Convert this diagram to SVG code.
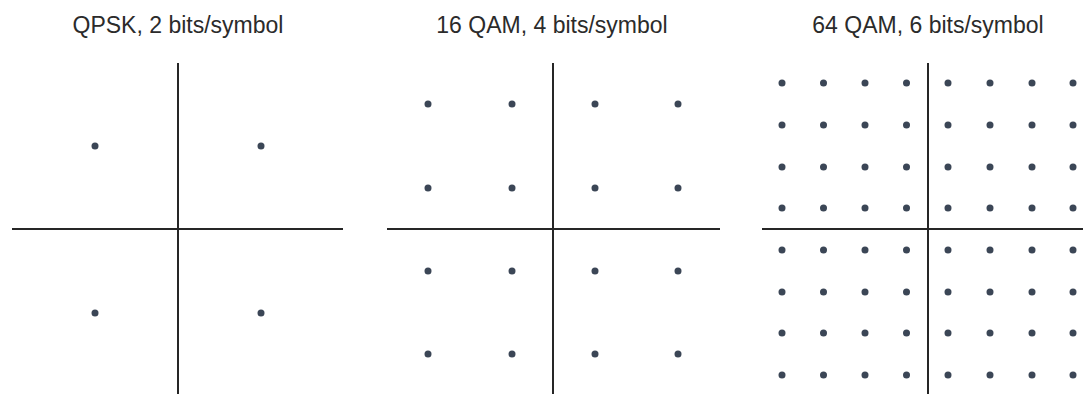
<svg xmlns="http://www.w3.org/2000/svg" width="1083" height="394" viewBox="0 0 1083 394">
<style>
.title{font-family:"Liberation Sans",Arial,sans-serif;font-size:23px;fill:#2b2b2b;text-anchor:middle}
.axis{stroke:#262626;stroke-width:2;fill:none}
.dot{fill:#3b4656}
</style>
<defs><circle id="d" r="3.5" class="dot"/></defs>
<rect width="1083" height="394" fill="#ffffff"/>
<g id="qpsk">
<text class="title" x="178" y="33">QPSK, 2 bits/symbol</text>
<g class="axes"><line class="axis" x1="178" y1="63" x2="178" y2="394"/><line class="axis" x1="12" y1="229" x2="343" y2="229"/></g>
<use href="#d" x="95" y="146"/><use href="#d" x="261" y="146"/>
<use href="#d" x="95" y="313"/><use href="#d" x="261" y="313"/>
</g>
<g id="qam16">
<text class="title" x="552" y="33">16 QAM, 4 bits/symbol</text>
<g class="axes"><line class="axis" x1="553" y1="63" x2="553" y2="394"/><line class="axis" x1="387" y1="229" x2="720" y2="229"/></g>
<use href="#d" x="428" y="104"/><use href="#d" x="512" y="104"/><use href="#d" x="595" y="104"/><use href="#d" x="678" y="104"/>
<use href="#d" x="428" y="188"/><use href="#d" x="512" y="188"/><use href="#d" x="595" y="188"/><use href="#d" x="678" y="188"/>
<use href="#d" x="428" y="271"/><use href="#d" x="512" y="271"/><use href="#d" x="595" y="271"/><use href="#d" x="678" y="271"/>
<use href="#d" x="428" y="354"/><use href="#d" x="512" y="354"/><use href="#d" x="595" y="354"/><use href="#d" x="678" y="354"/>
</g>
<g id="qam64">
<text class="title" x="928" y="33">64 QAM, 6 bits/symbol</text>
<g class="axes"><line class="axis" x1="928" y1="63" x2="928" y2="394"/><line class="axis" x1="762" y1="229" x2="1083" y2="229"/></g>
<g id="row1"><use href="#d" x="782" y="83"/><use href="#d" x="823.5" y="83"/><use href="#d" x="865" y="83"/><use href="#d" x="906.5" y="83"/><use href="#d" x="948" y="83"/><use href="#d" x="990" y="83"/><use href="#d" x="1032" y="83"/><use href="#d" x="1073" y="83"/></g>
<use href="#row1" y="42"/>
<use href="#row1" y="84"/>
<use href="#row1" y="125"/>
<use href="#row1" y="167"/>
<use href="#row1" y="209"/>
<use href="#row1" y="250"/>
<use href="#row1" y="292"/>
</g>
</svg>
